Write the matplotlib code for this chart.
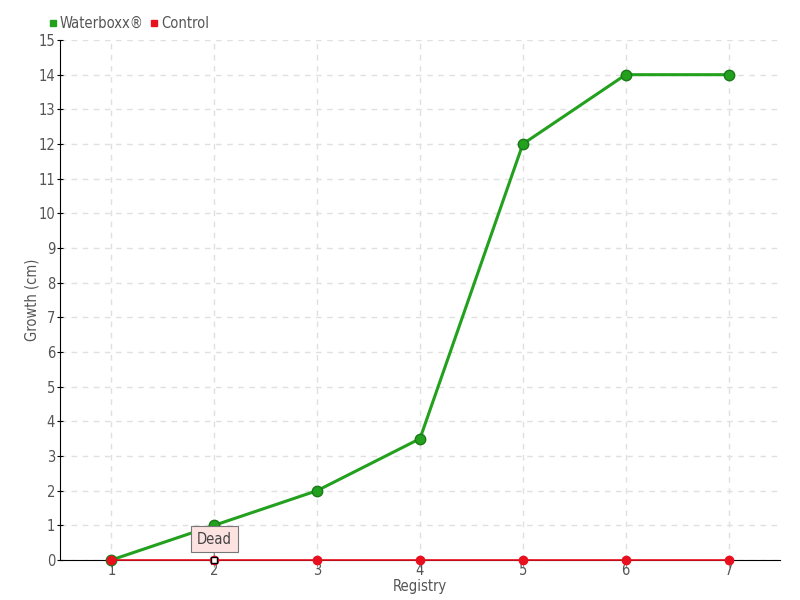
import matplotlib.pyplot as plt
from matplotlib.lines import Line2D

# Values
registry = [1, 2, 3, 4, 5, 6, 7]
waterboxx = [0, 1, 2, 3.5, 12, 14, 14]
control = [0, 0, 0, 0, 0, 0, 0]
y_ticks = list(range(0, 16))

green = '#22a01e'
red = '#e8101e'
text_gray = '#555555'

plt.rcParams['font.family'] = ['DejaVu Sans']
plt.rcParams['font.stretch'] = 'condensed'

fig = plt.figure(figsize=(8, 6), dpi=100)
ax = fig.add_axes([0.075, 0.0667, 0.9, 0.8666])

# Series
ax.plot(registry, waterboxx, color=green, linewidth=2.2, marker='o', markersize=7.5,
        markerfacecolor=green, markeredgecolor='#1a7a17', label='Waterboxx®',
        zorder=4, clip_on=False)
ax.plot(registry, control, color=red, linewidth=1.2, marker='o', markersize=6,
        markerfacecolor=red, markeredgecolor=red, label='Control', zorder=5,
        clip_on=False)

# Annotation at the control point 2
ax.plot([2], [0], marker='s', markersize=4, markerfacecolor='white',
        markeredgecolor='black', zorder=6, clip_on=False)
ax.annotate('Dead', xy=(2, 0), xytext=(0, 15), textcoords='offset points',
            ha='center', va='center', fontsize=10.5, color='#444444',
            bbox=dict(boxstyle='square,pad=0.4', facecolor='#fde2e2',
                      edgecolor='#777777', linewidth=0.8),
            arrowprops=dict(arrowstyle='-', color='#777777', linewidth=0.8,
                            shrinkA=0, shrinkB=3), zorder=7)

# Axes styling
ax.set_xlim(0.5, 7.5)
ax.set_ylim(0, 15)
ax.set_xticks(registry)
ax.set_yticks(y_ticks)
ax.grid(True, color='#e0e0e0', linestyle=(0, (4, 4)), linewidth=1)
ax.set_axisbelow(True)
for side in ['top', 'right']:
    ax.spines[side].set_visible(False)
ax.tick_params(axis='y', direction='inout', length=5, labelsize=10.5,
               labelcolor=text_gray, pad=1)
ax.tick_params(axis='x', direction='out', length=5, labelsize=10.5,
               labelcolor=text_gray, color='#999999', pad=-3)
ax.set_xlabel('Registry', fontsize=10.5, color=text_gray, labelpad=1)
ax.set_ylabel('Growth (cm)', fontsize=10.5, color=text_gray, labelpad=-1)

# Legend in the top-left corner
leg_handles = [Line2D([], [], linestyle='none', marker='s', markersize=5, color=green),
               Line2D([], [], linestyle='none', marker='s', markersize=5, color=red)]
fig.legend(leg_handles, ['Waterboxx®', 'Control'], loc='upper left',
           bbox_to_anchor=(0.045, 0.995), ncol=2, frameon=False, fontsize=10.5,
           handlelength=0.5, handletextpad=0.2, columnspacing=0.5,
           labelcolor=text_gray)

plt.savefig('out.png', dpi=100)
